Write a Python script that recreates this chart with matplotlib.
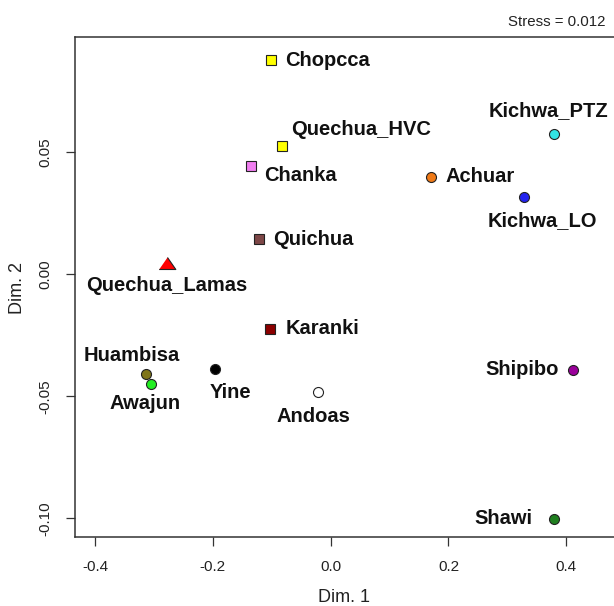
"""
MDS-Plot der Populationen (Dim. 1 vs. Dim. 2), Stress im Kopf.
"""

import matplotlib.pyplot as plt
from matplotlib.ticker import FormatStrFormatter

plt.rcParams["font.family"] = ["Liberation Sans", "DejaVu Sans"]

# ---------------------------------------------------------------------------
# Daten
# ---------------------------------------------------------------------------

populations = ["Chopcca", "Quechua_HVC", "Chanka", "Quichua", "Quechua_Lamas",
               "Karanki", "Huambisa", "Awajun", "Yine", "Andoas",
               "Shipibo", "Shawi", "Kichwa_PTZ", "Kichwa_LO", "Achuar"]
dim1 = [-0.102, -0.082, -0.136, -0.122, -0.278,
        -0.103, -0.314, -0.305, -0.197, -0.022,
        0.412, 0.379, 0.379, 0.328, 0.170]
dim2 = [0.0878, 0.0526, 0.0445, 0.0143, 0.0046,
        -0.0224, -0.0409, -0.0450, -0.0388, -0.0482,
        -0.0392, -0.1003, 0.0575, 0.0317, 0.0399]
stress = 0.012

x_ticks = [-0.4, -0.2, 0.0, 0.2, 0.4]
y_ticks = [-0.10, -0.05, 0.00, 0.05]

# ---------------------------------------------------------------------------
# Stil: Farbe, Marker, Beschriftungs-Versatz (Pixel) und Ausrichtung
# ---------------------------------------------------------------------------

TRIANGLE = [(-1.0, -0.72), (1.0, -0.72), (0.0, 0.72)]

colors = ["#FFFF00", "#FFFF00", "#F07EF0", "#7D4747", "#FF0000",
          "#8B0000", "#7F7519", "#22EE22", "#000000", "#FFFFFF",
          "#9A009A", "#1F7F1F", "#33E3E3", "#2222EE", "#F07A17"]
markers = ["s", "s", "s", "s", TRIANGLE,
           "s", "o", "o", "o", "o",
           "o", "o", "o", "o", "o"]
label_offsets = [(15, 0), (9, 17), (14, -10), (14, 0), (0, -22),
                 (16, 0), (-14, 19), (-6, -19), (16, -24), (-4, -25),
                 (-15, 0), (-21, 0), (-5, 24), (19, -24), (15, 0)]
label_ha = ["left", "left", "left", "left", "center",
            "left", "center", "center", "center", "center",
            "right", "right", "center", "center", "left"]

DPI = 100
PX = 72 / DPI  # Pixel -> Punkt

fig = plt.figure(figsize=(6.14, 6.06), dpi=DPI)
# Achse ragt rechts ueber den Bildrand hinaus (wie im Original abgeschnitten)
ax = fig.add_axes([75 / 614, 69 / 606, 638.5 / 614, 500 / 606])
ax.set_xlim(-0.434, 0.65)
ax.set_ylim(-0.1077, 0.0973)

for name, x, y, c, m, off, ha in zip(populations, dim1, dim2, colors, markers,
                                     label_offsets, label_ha):
    is_tri = m is TRIANGLE
    ax.plot(x, y, marker=m, linestyle="none", color=c,
            markersize=12 if is_tri else (7.7 if m == "s" else 7.2),
            markeredgecolor="#222222", markeredgewidth=0.8, zorder=3)
    ax.annotate(name, (x, y), xytext=(off[0] * PX, off[1] * PX),
                textcoords="offset points", ha=ha, va="center",
                fontsize=14.5, fontweight="bold", color="#111111")

for side in ["left", "bottom", "top"]:
    ax.spines[side].set_color("#333333")
    ax.spines[side].set_linewidth(1.1)
ax.spines["right"].set_visible(False)

ax.set_xticks(x_ticks)
ax.set_yticks(y_ticks)
ax.yaxis.set_major_formatter(FormatStrFormatter("%.2f"))
ax.xaxis.set_major_formatter(FormatStrFormatter("%.1f"))
ax.tick_params(axis="both", direction="out", length=6.5, width=0.9,
               color="#333333", labelsize=11, labelcolor="#222222", pad=10)
for lbl in ax.get_yticklabels():
    lbl.set_rotation(90)
    lbl.set_va("center")

fig.text(344 / 614, 1 - 598 / 606, "Dim. 1", ha="center", va="center",
         fontsize=13, color="#222222")
fig.text(18 / 614, 1 - 288 / 606, "Dim. 2", ha="center", va="center",
         rotation=90, fontsize=13, color="#222222")
fig.text(605 / 614, 1 - 22 / 606, f"Stress = {stress:.3f}", ha="right",
         va="center", fontsize=10.8, color="#222222")

fig.savefig("out.png", dpi=DPI)
